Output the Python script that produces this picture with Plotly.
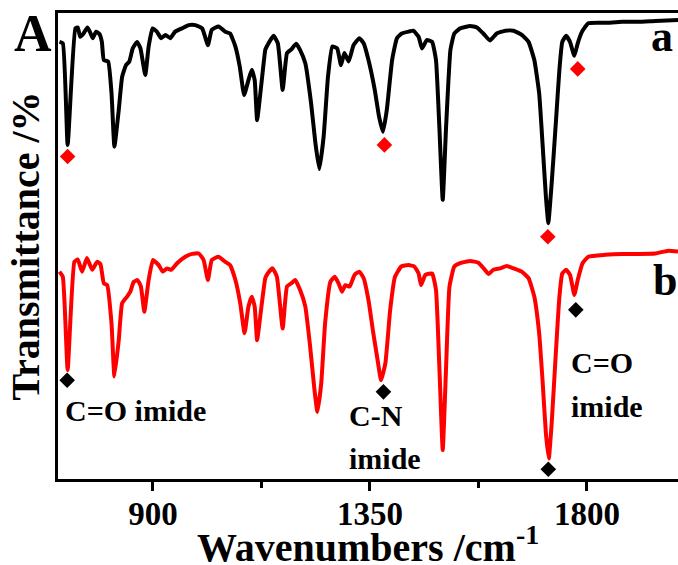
import plotly.graph_objects as go

# Curve a (black) - wavenumber (cm^-1) and transmittance (arb. %)
wn_a = [706,713,723,739,744,749,756,764,769,775,
        782,789,794,798,807,814,820,829,836,844,
        851,858,867,874,884,891,899,908,917,926,
        936,946,960,974,988,1002,1014,1022,1036,1050,
        1060,1071,1080,1089,1098,1105,1111,1116,1125,1133,
        1136,1150,1159,1169,1178,1187,1197,1205,1216,1228,
        1237,1245,1254,1263,1272,1282,1290,1297,1306,1316,
        1328,1337,1347,1360,1369,1377,1385,1396,1406,1416,
        1430,1440,1451,1458,1468,1479,1487,1494,1501,1508,
        1517,1525,1537,1558,1572,1586,1599,1613,1631,1648,
        1665,1679,1691,1701,1708,1715,1720,1727,1736,1743,
        1749,1757,1765,1774,1781,1790,1803,1838,1873,1907,
        1942,1989]
t_a = [93.8,93.5,71.7,96.7,96.9,94.9,95.6,96.9,96.0,94.6,
       96.0,95.5,93.8,89.9,89.6,82.8,71.3,79.2,86.3,88.8,
       89.6,92.4,93.8,92.4,86.7,92.8,96.7,96.0,94.6,95.3,
       94.6,96.0,96.7,97.4,97.4,96.7,93.1,96.4,97.1,96.0,
       95.6,92.8,88.5,82.4,85.6,87.8,85.6,77.0,84.9,92.1,
       92.8,95.1,93.5,83.5,91.4,92.2,93.4,92.1,89.2,80.6,
       72.0,66.5,73.5,86.3,92.8,92.4,88.8,91.4,89.6,93.1,
       94.6,93.5,89.9,83.5,77.7,74.5,79.2,89.9,94.6,95.6,
       96.0,96.2,94.9,92.4,94.2,93.8,89.9,75.6,59.9,75.6,
       92.1,95.6,96.7,97.2,96.9,95.5,94.1,95.6,96.2,96.2,
       95.3,93.8,89.9,82.8,72.0,60.6,54.9,63.5,77.0,87.8,
       93.8,95.1,93.8,90.8,93.5,96.0,97.8,97.9,98.1,98.1,
       98.3,98.5]

# Curve b (red)
wn_b = [706,713,723,737,744,753,763,774,784,791,
        798,805,814,820,829,836,846,853,860,868,
        875,882,891,900,912,920,929,938,950,967,
        981,995,1005,1014,1022,1036,1050,1060,1071,1081,
        1090,1098,1105,1111,1116,1125,1133,1138,1148,1157,
        1169,1178,1187,1195,1205,1216,1226,1235,1241,1249,
        1257,1268,1277,1285,1292,1299,1308,1318,1328,1337,
        1347,1357,1367,1373,1382,1392,1402,1415,1430,1442,
        1451,1456,1465,1479,1487,1494,1501,1508,1515,1525,
        1537,1558,1575,1586,1596,1606,1620,1634,1648,1665,
        1679,1691,1701,1708,1715,1721,1727,1736,1743,1749,
        1757,1765,1774,1781,1791,1803,1838,1873,1907,1942,
        1969,1989]
t_b = [44.5,43.4,23.4,46.6,47.1,44.5,47.4,44.9,46.6,46.1,
       42.0,41.6,33.4,22.0,29.8,37.7,39.1,40.2,42.3,42.7,
       41.3,35.9,42.7,47.0,45.9,44.5,45.2,44.9,46.3,47.7,
       48.3,48.4,47.0,42.7,47.0,47.7,46.6,45.9,42.7,37.7,
       31.3,37.0,39.1,37.0,29.8,37.0,43.1,44.1,45.2,43.4,
       32.3,41.3,42.0,42.7,40.6,37.0,28.4,19.1,14.4,20.5,
       33.4,42.3,43.4,42.0,40.2,41.6,41.3,43.8,44.5,43.1,
       38.4,31.3,24.8,21.2,24.8,36.3,43.4,45.6,45.9,45.6,
       44.1,41.6,43.8,44.1,40.6,24.1,6.2,24.1,41.3,45.6,
       46.3,46.8,46.4,45.2,44.0,44.9,45.2,45.7,45.2,44.5,
       43.1,39.1,31.3,21.2,9.8,4.4,12.0,27.7,39.1,44.1,
       44.9,43.8,39.5,42.7,46.3,47.7,48.1,48.3,48.3,48.4,
       49.0,48.8]

# Peak markers
mk_a_x = [723, 1380, 1719, 1781]
mk_a_y = [69.2, 71.7, 52.0, 88.0]
mk_b_x = [722, 1378, 1720, 1777]
mk_b_y = [21.2, 18.7, 2.1, 36.3]

# x-axis ticks
tick_vals = [900, 1350, 1800]
tick_text = ["900", "1350", "1800"]

FONT = "Liberation Serif"

fig = go.Figure()
fig.add_trace(go.Scatter(x=wn_a, y=t_a, mode="lines",
                         line=dict(color="black", width=4, shape="spline", smoothing=0.4),
                         showlegend=False))
fig.add_trace(go.Scatter(x=wn_b, y=t_b, mode="lines",
                         line=dict(color="#ff0000", width=4, shape="spline", smoothing=0.4),
                         showlegend=False))
fig.add_trace(go.Scatter(x=mk_a_x, y=mk_a_y, mode="markers",
                         marker=dict(symbol="diamond", size=12, color="#ff0000"),
                         showlegend=False))
fig.add_trace(go.Scatter(x=mk_b_x, y=mk_b_y, mode="markers",
                         marker=dict(symbol="diamond", size=12, color="black"),
                         showlegend=False))

ann_font = dict(family=FONT, size=30, color="black", weight="bold")
annotations = [
    dict(x=714, y=14.6, text="C=O imide", xanchor="left", yanchor="middle"),
    dict(x=1302, y=13.7, text="C-N", xanchor="left", yanchor="middle"),
    dict(x=1302, y=4.3, text="imide", xanchor="left", yanchor="middle"),
    dict(x=1762, y=25.1, text="C=O", xanchor="left", yanchor="middle"),
    dict(x=1762, y=15.5, text="imide", xanchor="left", yanchor="middle"),
]
for a in annotations:
    a.update(xref="x", yref="y", showarrow=False, font=ann_font)

annotations += [
    dict(x=1929, y=94.9, xref="x", yref="y", text="a", showarrow=False,
         xanchor="left", yanchor="middle",
         font=dict(family=FONT, size=44, color="black", weight="bold")),
    dict(x=1934, y=42.7, xref="x", yref="y", text="b", showarrow=False,
         xanchor="left", yanchor="middle",
         font=dict(family=FONT, size=44, color="black", weight="bold")),
    dict(x=-0.041, y=0.955, xref="paper", yref="paper", text="A", showarrow=False,
         xanchor="center", yanchor="middle",
         font=dict(family=FONT, size=52, color="black", weight="bold")),
    # x-axis title
    dict(x=0.5, y=-0.14, xref="paper", yref="paper",
         text="Wavenumbers /cm<sup>-1</sup>", showarrow=False,
         xanchor="center", yanchor="middle",
         font=dict(family=FONT, size=40, color="black", weight="bold")),
]

fig.update_layout(
    width=678, height=565,
    margin=dict(l=58, r=0, t=13, b=86),
    paper_bgcolor="white", plot_bgcolor="white",
    font=dict(family=FONT, color="black"),
    annotations=annotations,
    xaxis=dict(
        range=[703, 1989], automargin=False,
        showgrid=False, zeroline=False,
        showline=True, linecolor="black", linewidth=2.5, mirror=True,
        ticks="outside", ticklen=9, tickwidth=2.5, tickcolor="black",
        tickvals=tick_vals, ticktext=tick_text, ticklabelstandoff=-5,
        tickfont=dict(family=FONT, size=33, color="black", weight="bold"),
        minor=dict(tickvals=[1125, 1575], ticks="outside", ticklen=6,
                   tickwidth=2.5, tickcolor="black"),
    ),
    yaxis=dict(
        range=[0, 100], automargin=False,
        showgrid=False, zeroline=False,
        showline=True, linecolor="black", linewidth=2.5, mirror=False,
        ticks="", showticklabels=False,
        title=dict(text="Transmittance /%", standoff=4,
                   font=dict(family=FONT, size=40, color="black", weight="bold")),
    ),
)

fig.write_html(
    "out.html",
    config={"displayModeBar": False},
    post_script="document.body.style.margin='0';document.body.style.overflow='hidden';",
)
